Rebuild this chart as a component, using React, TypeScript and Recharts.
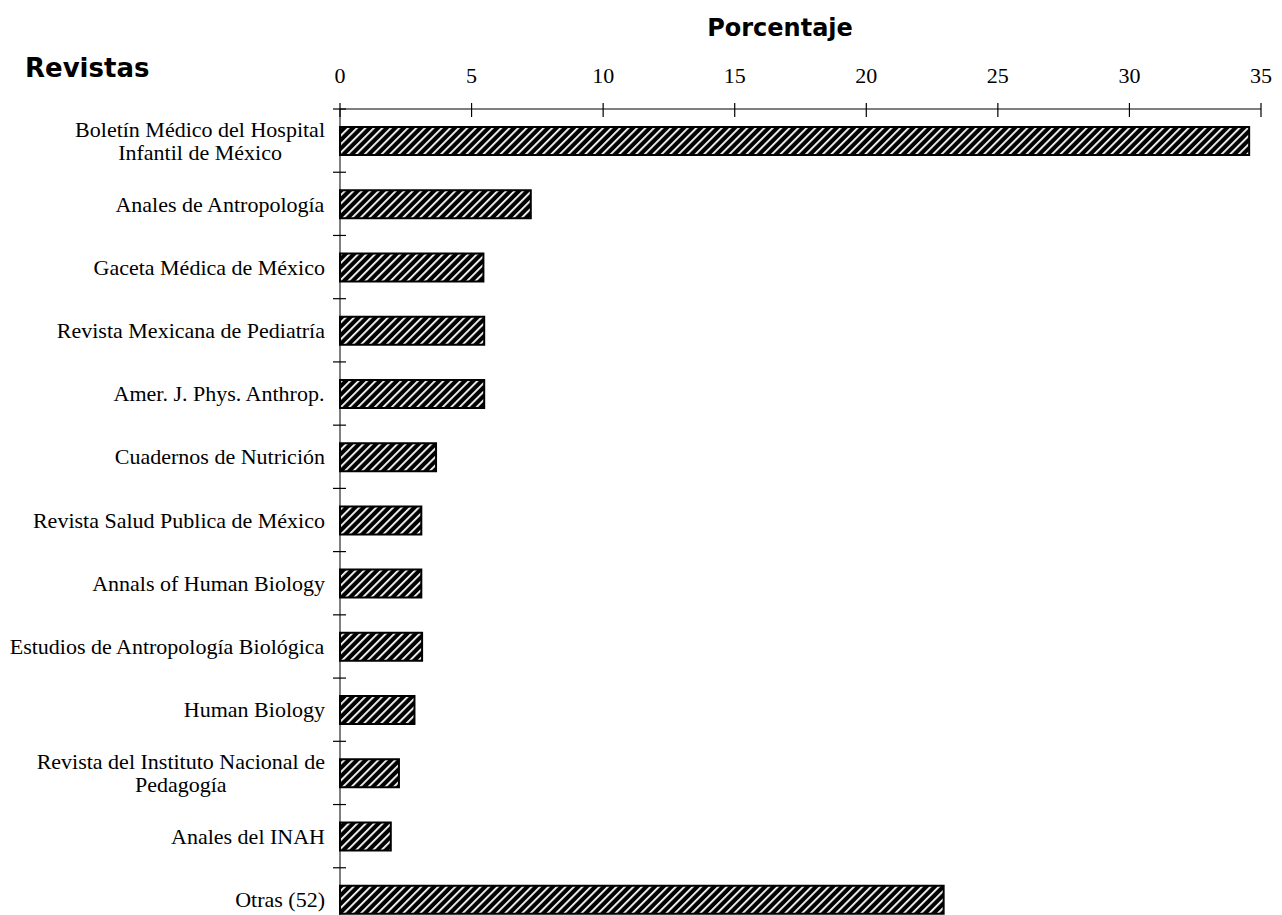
import React from 'react';
import { BarChart, Bar, XAxis, YAxis } from 'recharts';

// journals, top to bottom (a "\n" splits a label over two lines)
const journals = [
    'Boletín Médico del Hospital\nInfantil de México',
    'Anales de Antropología',
    'Gaceta Médica de México',
    'Revista Mexicana de Pediatría',
    'Amer. J. Phys. Anthrop.',
    'Cuadernos de Nutrición',
    'Revista Salud Publica de México',
    'Annals of Human Biology',
    'Estudios de Antropología Biológica',
    'Human Biology',
    'Revista del Instituto Nacional de\nPedagogía',
    'Anales del INAH',
    'Otras (52)',
];
const percentages = [34.55, 7.25, 5.45, 5.48, 5.48, 3.65, 3.09, 3.09, 3.12, 2.83, 2.24, 1.93, 22.94];
const percentTicks = [0, 5, 10, 15, 20, 25, 30, 35];

const data = journals.map((name, i) => ({ name, value: percentages[i] }));

const CHART_W = 1282;
const CHART_H = 931;
const X_AXIS_H = 109;
const BAND = (CHART_H - X_AXIS_H) / journals.length;
const SERIF = '"Liberation Serif", "Times New Roman", serif';
const LABEL_SIZE = 22;

let measureCtx: CanvasRenderingContext2D | null = null;
const textWidth = (s: string) => {
    if (!measureCtx) measureCtx = document.createElement('canvas').getContext('2d');
    if (!measureCtx) return s.length * LABEL_SIZE * 0.45;
    measureCtx.font = `${LABEL_SIZE}px "Liberation Serif"`;
    return measureCtx.measureText(s).width;
};

const PercentTick = (props: any) => {
    const { x, y, payload } = props;
    return (
        <g>
            <line x1={x} x2={x} y1={y - 6} y2={y + 8} stroke="#000" strokeWidth={1.2} />
            <text x={x} y={y - 26} textAnchor="middle" fontFamily={SERIF} fontSize={LABEL_SIZE} fill="#000">
                {payload.value}
            </text>
        </g>
    );
};

const JournalTick = (props: any) => {
    const { x, y, payload } = props;
    const lines = String(payload.value).split('\n');
    const widest = Math.max(...lines.map(textWidth));
    const cx = x - 15 - widest / 2;
    const top = y - ((lines.length - 1) * 23) / 2;
    return (
        <g>
            <line x1={x - 7} x2={x + 6} y1={y - BAND / 2} y2={y - BAND / 2} stroke="#000" strokeWidth={1.2} />
            <text textAnchor="middle" fontFamily={SERIF} fontSize={LABEL_SIZE} fill="#000">
                {lines.map((line, i) => (
                    <tspan key={i} x={cx} y={top + i * 23} dy="0.35em">{line}</tspan>
                ))}
            </text>
        </g>
    );
};

const titleStyle: React.CSSProperties = {
    position: 'absolute',
    fontFamily: '"DejaVu Sans", sans-serif',
    fontWeight: 'bold',
    lineHeight: 1,
    color: '#000',
    whiteSpace: 'nowrap',
};

export default function App() {
    return (
        <div style={{ position: 'absolute', top: 0, left: 0, width: 1282, height: 915, overflow: 'hidden', background: '#fff' }}>
            <svg width={0} height={0} style={{ position: 'absolute' }}>
                <defs>
                    <pattern id="hatch" patternUnits="userSpaceOnUse" width={6} height={6} patternTransform="rotate(45)">
                        <rect width={6} height={6} fill="#000" />
                        <rect x={0} y={0} width={1.8} height={6} fill="#fff" />
                    </pattern>
                </defs>
            </svg>

            <div style={{ ...titleStyle, left: 25, top: 55, fontSize: 26 }}>Revistas</div>
            <div style={{ ...titleStyle, left: 780, top: 16, fontSize: 24, transform: 'translateX(-50%)' }}>Porcentaje</div>

            <BarChart
                width={CHART_W}
                height={CHART_H}
                data={data}
                layout="vertical"
                margin={{ top: 0, right: 21, bottom: 0, left: 0 }}
                barSize={28}
            >
                <XAxis
                    type="number"
                    orientation="top"
                    domain={[0, 35]}
                    ticks={percentTicks}
                    height={X_AXIS_H}
                    tickSize={0}
                    tickMargin={0}
                    tickLine={false}
                    tick={<PercentTick />}
                    axisLine={{ stroke: '#000', strokeWidth: 1.2 }}
                    interval={0}
                />
                <YAxis
                    type="category"
                    dataKey="name"
                    width={340}
                    tickSize={0}
                    tickMargin={0}
                    tickLine={false}
                    tick={<JournalTick />}
                    axisLine={{ stroke: '#000', strokeWidth: 1 }}
                    interval={0}
                />
                <Bar dataKey="value" fill="url(#hatch)" stroke="#000" strokeWidth={2} isAnimationActive={false} />
            </BarChart>
        </div>
    );
}
